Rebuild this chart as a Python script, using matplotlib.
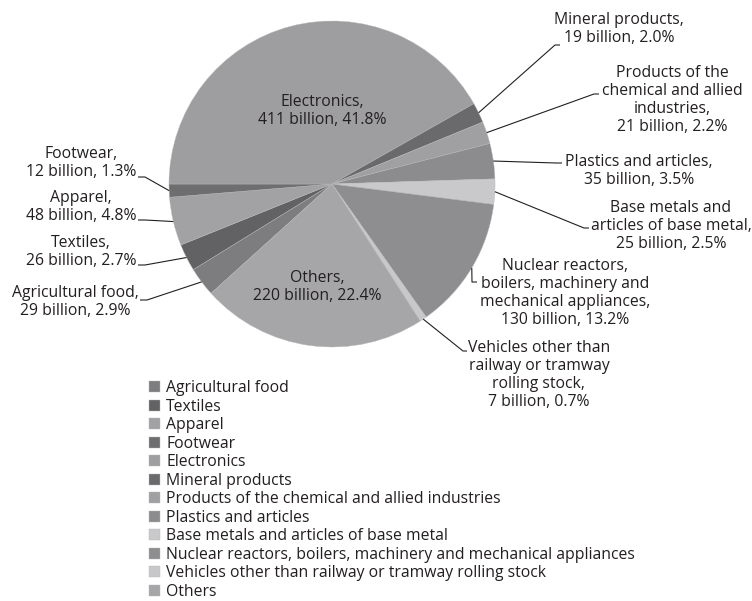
import matplotlib
matplotlib.use('Agg')
import matplotlib.pyplot as plt
import numpy as np

plt.rcParams['font.family'] = ['Open Sans', 'DejaVu Sans']

categories = ['Agricultural food', 'Textiles', 'Apparel', 'Footwear', 'Electronics',
              'Mineral products', 'Products of the chemical and allied industries',
              'Plastics and articles', 'Base metals and articles of base metal',
              'Nuclear reactors, boilers, machinery and mechanical appliances',
              'Vehicles other than railway or tramway rolling stock', 'Others']
billions = [29, 26, 48, 12, 411, 19, 21, 35, 25, 130, 7, 220]
shares = [2.9, 2.7, 4.8, 1.3, 41.8, 2.0, 2.2, 3.5, 2.5, 13.2, 0.7, 22.4]
# line breaks used in the slice labels
label_names = ['Agricultural food,', 'Textiles,', 'Apparel,', 'Footwear,', 'Electronics,',
               'Mineral products,', 'Products of the\nchemical and allied\nindustries,',
               'Plastics and articles,', 'Base metals and\narticles of base metal,',
               'Nuclear reactors,\nboilers, machinery and\nmechanical appliances,',
               'Vehicles other than\nrailway or tramway\nrolling stock,', 'Others,']

colors = ['#7d7d7f', '#626264', '#a2a2a4', '#6e6e70', '#9e9ea0', '#6a6a6c',
          '#a0a0a2', '#8c8c8e', '#c9c9cb', '#8e8e90', '#c8c8ca', '#a6a6a8']
ink = '#231f20'

W, H = 752, 601
CX, CY, R = 332, 184, 163


def px(x, y):
    # pixel position -> data units of the pie (radius 1)
    return ((x - CX) / R, (CY - y) / R)


fig = plt.figure(figsize=(W / 100, H / 100), dpi=100)
ax = fig.add_axes([0, 0, 1, 1])

# Electronics starts at 9 o'clock, slices run clockwise
start = 180 + 360 * sum(shares[:4]) / 100
wedges, _ = ax.pie(shares, colors=colors, startangle=start, counterclock=False,
                   radius=1, wedgeprops=dict(linewidth=0.3, edgecolor='#b8b8ba'))

fs = 11.3
# text centre, then leader path (elbow, end) in pixels; None = label inside the slice
layout = {
    0: ((75, 302), [(147, 300), (140, 300)]),
    1: ((81, 252), [(145, 265), (138, 265)]),
    2: ((81, 207), [(145, 220), (138, 220)]),
    3: ((81, 163), [(145, 177), (138, 177)]),
    4: ((322, 111), None),
    5: ((619, 29), [(555, 45), (560, 45)]),
    6: ((672, 100), [(594, 94), (599, 94)]),
    7: ((639, 171), [(556, 163), (562, 163)]),
    8: ((671, 226), [(584, 228), (589, 228)]),
    9: ((565, 293), [(472, 282), (477, 282)]),
    10: ((539, 375), [(463, 351), (467, 351)]),
    11: ((317, 287), None),
}

for i, w in enumerate(wedges):
    txt = '{}\n{} billion, {:.1f}%'.format(label_names[i], billions[i], shares[i])
    (tx, ty), path = layout[i]
    ax.text(*px(tx, ty), txt, ha='center', va='center', fontsize=fs, color=ink,
            linespacing=1.16)
    if path is None:
        continue
    ang = np.deg2rad((w.theta1 + w.theta2) / 2)
    xs = [np.cos(ang)] + [px(*p)[0] for p in path]
    ys = [np.sin(ang)] + [px(*p)[1] for p in path]
    ax.plot(xs, ys, color=ink, lw=0.8, solid_capstyle='butt')

ax.legend(wedges, categories, loc='upper left', bbox_to_anchor=px(149, 380),
          bbox_transform=ax.transData, frameon=False, fontsize=fs,
          handlelength=0.7, handleheight=0.7, handletextpad=0.4,
          labelspacing=0.16, borderpad=0, borderaxespad=0, labelcolor=ink)

x0, y_top = px(0, 0)
x1, y_bot = px(W, H)
ax.set_xlim(x0, x1)
ax.set_ylim(y_bot, y_top)
ax.set_aspect('auto')
ax.axis('off')

fig.savefig('out.png', dpi=100, facecolor='white')
